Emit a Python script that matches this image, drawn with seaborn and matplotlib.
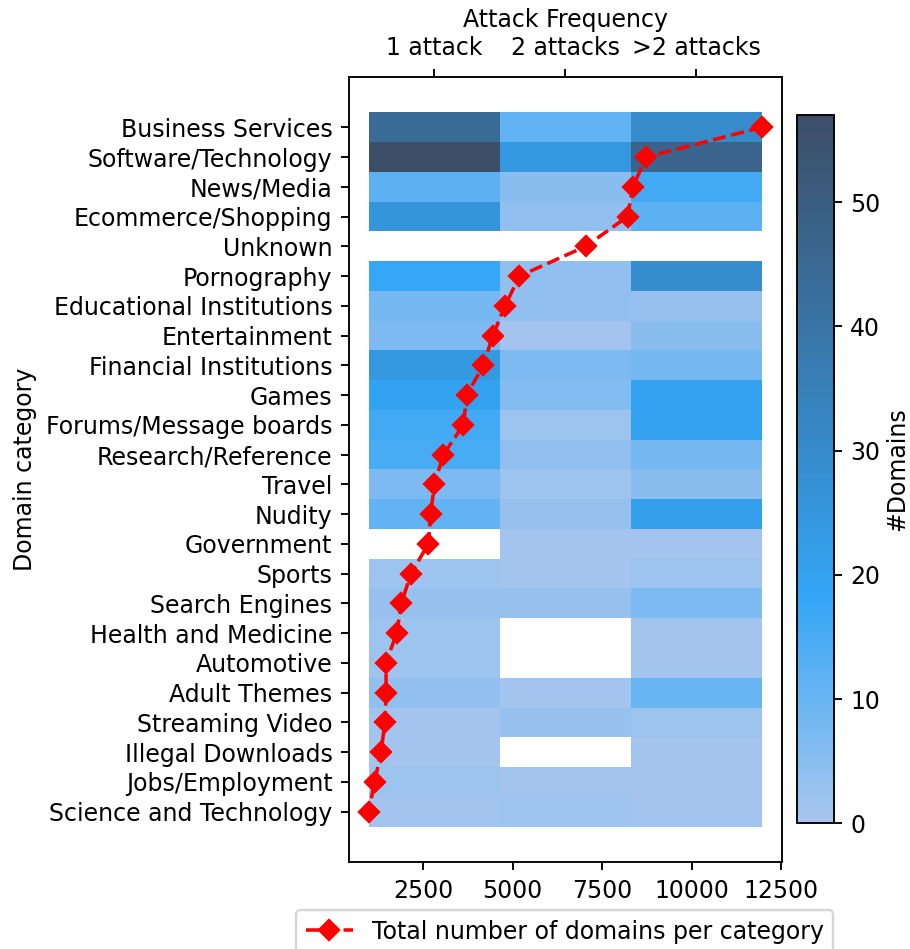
import matplotlib.pyplot as plt
import numpy as np
import pandas as pd
import seaborn as sns
from matplotlib.colors import LinearSegmentedColormap

nan = np.nan

categories = [
    "Business Services", "Software/Technology", "News/Media", "Ecommerce/Shopping",
    "Unknown", "Pornography", "Educational Institutions", "Entertainment",
    "Financial Institutions", "Games", "Forums/Message boards", "Research/Reference",
    "Travel", "Nudity", "Government", "Sports", "Search Engines",
    "Health and Medicine", "Automotive", "Adult Themes", "Streaming Video",
    "Illegal Downloads", "Jobs/Employment", "Science and Technology",
]
freq_labels = ["1 attack", "2 attacks", ">2 attacks"]

# domains per category and attack frequency (white cells = no data)
one_attack = [44, 57, 12, 26, nan, 18, 8, 7, 24, 20, 16, 15, 7, 11, nan, 2, 3, 2, 2, 4, 1, 1, 2, 1]
two_attacks = [11, 24, 5, 4, nan, 4, 4, 1, 7, 6, 2, 4, 2, 3, 1, 1, 3, nan, nan, 1, 3, nan, 1, 2]
more_attacks = [30, 47, 16, 12, nan, 29, 3, 5, 8, 20, 20, 8, 5, 21, 1, 2, 7, 1, 1, 10, 2, 1, 1, 1]

# total number of domains per category
totals = [11970, 8735, 8363, 8213, 7048, 5193, 4793, 4448, 4187, 3721, 3628, 3069,
          2817, 2714, 2649, 2164, 1894, 1764, 1465, 1470, 1437, 1326, 1149, 982]

df = pd.DataFrame(
    {freq_labels[0]: one_attack, freq_labels[1]: two_attacks, freq_labels[2]: more_attacks},
    index=categories,
)

cmap = LinearSegmentedColormap.from_list(
    "domains", [(0, "#a9c6ee"), (0.32, "#33a6f6"), (1, "#3d4e68")]
)

fig = plt.figure(figsize=(911 / 170, 949 / 170), dpi=170)
ax = fig.add_axes([0.3831, 0.0914, 0.4750, 0.8278])
cax = fig.add_axes([0.8752, 0.1325, 0.0400, 0.7460])

sns.heatmap(df, ax=ax, cmap=cmap, vmin=0, cbar_ax=cax)
cbar = ax.collections[0].colorbar
cbar.outline.set_linewidth(0.8)
cbar.outline.set_edgecolor("black")
cbar.set_label("#Domains", labelpad=2)

# line with totals on a twin x axis (bottom)
ax2 = ax.twiny()
ax2.plot(totals, np.arange(len(categories)) + 0.5, "r--", marker="D",
         label="Total number of domains per category")
ax2.xaxis.set_ticks_position("bottom")
ax2.xaxis.set_label_position("bottom")

ax.xaxis.tick_top()
ax.xaxis.set_label_position("top")
ax.set_xlabel("Attack Frequency")
ax.set_ylabel("Domain category")
ax.tick_params(axis="y", rotation=0)
for lbl in ax.get_yticklabels():
    lbl.set_va("center_baseline")
ax.set_xlim(-0.15, 3.15)
ax.set_ylim(25.2, -1.2)

fig.legend(loc="upper center", bbox_to_anchor=(0.62, 0.041), borderaxespad=0)

plt.savefig("out.png", dpi=170)
